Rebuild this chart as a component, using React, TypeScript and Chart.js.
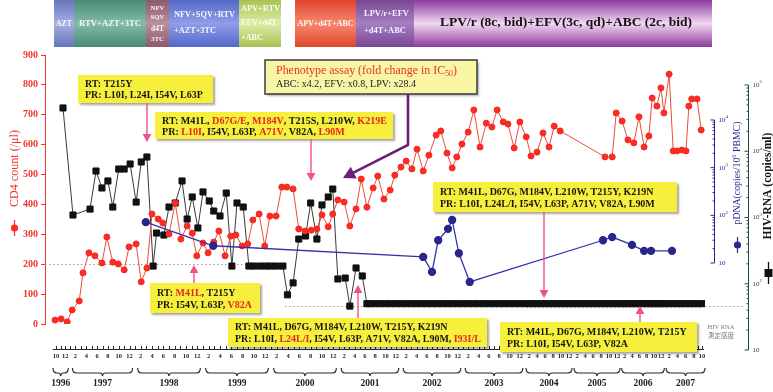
import React, { useEffect, useRef } from 'react';
import { Chart, registerables, LinearScale } from 'chart.js';

Chart.register(...registerables);

const FONT = "'Liberation Serif', 'Times New Roman', serif";
const JP_FONT = "'Noto Sans CJK JP', 'Noto Sans CJK SC', sans-serif";

// ---------------- data (time = months counted from Jan 1996, 0 = Jan 1996) ----------------
const CD4_MONTHS = [
  8.8, 10.1, 11.4, 12.4, 13.7, 14.4, 15.5, 16.6, 17.9, 18.8,
  19.9, 20.9, 22.0, 22.9, 24.2, 25.1, 26.1, 27.0, 28.1, 28.9,
  30.0, 31.1, 32.1, 33.2, 34.1, 34.9, 36.0, 36.9, 37.9, 38.8,
  39.9, 40.9, 41.8, 42.9, 43.9, 44.8, 45.9, 46.9, 47.8, 48.9,
  49.9, 50.8, 51.9, 52.9, 54.0, 55.1, 56.1, 57.0, 58.1, 58.9,
  59.8, 61.0, 62.1, 63.3, 64.3, 65.4, 66.6, 67.5, 68.7, 69.9,
  70.8, 72.0, 73.0, 74.1, 75.1, 76.3, 77.4, 78.8, 79.7, 80.9,
  81.9, 82.8, 83.8, 85.0, 86.1, 87.3, 88.5, 89.6, 90.6, 91.8,
  92.7, 93.9, 95.0, 96.3, 97.5, 99.0, 100.5, 102.0, 103.3, 104.8,
  116.0, 117.8, 118.8, 120.3, 121.9, 123.5, 124.9, 126.3, 127.6, 128.5,
  129.8, 130.9, 131.7, 133.0, 134.0, 134.9, 136.1, 137.1, 137.8, 138.5,
  139.8, 140.8,
];
const CD4_COUNTS = [
  13, 17, 7, 47, 77, 171, 238, 228, 204, 291,
  207, 201, 181, 258, 268, 141, 187, 368, 351, 338,
  301, 405, 284, 328, 304, 228, 271, 238, 274, 311,
  228, 294, 298, 261, 268, 348, 368, 261, 361, 361,
  458, 458, 452, 318, 311, 314, 318, 365, 325, 368,
  415, 408, 328, 385, 485, 391, 455, 495, 418, 448,
  498, 525, 545, 519, 585, 512, 565, 632, 646, 572,
  522, 559, 602, 642, 716, 592, 672, 659, 716, 676,
  669, 589, 676, 626, 562, 575, 639, 592, 662, 646,
  559, 559, 706, 679, 616, 606, 693, 592, 629, 756,
  729, 790, 706, 836, 579, 579, 582, 579, 729, 753,
  753, 649,
];

const RNA_MONTHS = [
  10.5, 12.55, 15.7, 16.8, 17.9, 19.0, 19.9, 21.0, 22.0, 23.1,
  24.2, 25.1, 26.1, 27.2, 27.8, 29.1, 30.0, 31.1, 32.3, 33.2,
  34.1, 35.1, 36.0, 37.1, 37.9, 39.0, 40.1, 41.1, 42.0, 43.1,
  44.1, 45.0, 46.1, 47.1, 48.0, 49.0, 50.1, 50.9, 51.9, 52.9,
  54.1, 55.0, 56.1, 57.0, 58.1, 58.9, 59.8, 61.2, 62.1, 63.3,
  64.5,
];
const RNA_COPIES = [
  45000, 1090, 1340, 5030, 2790, 3560, 1440, 5390, 5390, 6420,
  1710, 6890, 8190, 185, 583, 544, 1440, 1655, 3560, 948,
  2040, 695, 2430, 1775, 1253, 1054, 2340, 185, 1655, 1440,
  185, 185, 185, 185, 185, 185, 185, 68, 103, 473,
  526, 1655, 473, 1545, 2040, 2690, 118, 122, 46, 173,
  131,
];
// below detection limit (plotted at 50 copies/ml)
const RNA_UNDETECTABLE_MONTHS = [
  65.4, 66, 67, 68, 69, 70, 71, 72, 73, 74, 75,
  76, 77, 78, 79, 80, 81, 82, 83, 84, 85, 86,
  87, 88, 89, 90, 91, 92, 93, 94, 95, 96, 97,
  98, 99, 100, 101, 102, 103, 104, 105, 106, 107,
  108, 109, 110, 111, 112, 113, 114, 115, 116, 117,
  118, 119, 120, 121, 122, 123, 124, 125, 126, 127,
  128, 129, 130, 131, 132, 133, 134, 135, 136, 137, 138, 139, 140, 141,
];
const RNA_UNDETECTABLE_COPIES = [
  50, 50, 50, 50, 50, 50, 50, 50, 50, 50, 50,
  50, 50, 50, 50, 50, 50, 50, 50, 50, 50, 50,
  50, 50, 50, 50, 50, 50, 50, 50, 50, 50, 50,
  50, 50, 50, 50, 50, 50, 50, 50, 50, 50,
  50, 50, 50, 50, 50, 50, 50, 50, 50, 50,
  50, 50, 50, 50, 50, 50, 50, 50, 50, 50,
  50, 50, 50, 50, 50, 50, 50, 50, 50, 50, 50, 50, 50, 50,
];

const PDNA_MONTHS = [25.9, 37.8, 76.3, 78.0, 79.2, 81.1, 81.9, 83.2, 85.3, 115.5, 117.8, 123.0, 126.3, 128.2, 133.7];
const PDNA_COPIES = [72, 23, 13.4, 6.5, 30, 52, 80, 16, 4, 30, 35, 24, 18, 18, 18];

// detection limits of the HIV RNA assay
const OLD_LIMIT = 200;
const NEW_LIMIT = 50;
const ASSAY_CHANGE_MONTH = 50.5;

// ---------------- axis labels ----------------
const YEAR_LABELS = ['1996', '1997', '1998', '1999', '2000', '2001', '2002', '2003', '2004', '2005', '2006', '2007'];
const FULL_YEAR = ['2', '4', '6', '8', '10', '12'];
const YEAR_MONTH_LABELS = [
  ['10', '12'], FULL_YEAR, FULL_YEAR, FULL_YEAR, FULL_YEAR, FULL_YEAR,
  FULL_YEAR, FULL_YEAR, FULL_YEAR, FULL_YEAR, FULL_YEAR, ['2', '4', '6', '8', '10'],
];
const CD4_TICKS = [0, 100, 200, 300, 400, 500, 600, 700, 800, 900];

// ruler calibration (the printed time ruler is compressed in later years)
const RULER_MONTHS = [9, 12, 24, 36, 48, 60, 72, 84, 96, 108, 120, 132, 141];
const RULER_UNITS = [56, 70, 135, 203, 271, 339, 401, 463, 525, 573, 621, 665, 702];
const RULER_EDGE = [45, 705];

function interp(v: number, xs: number[], ys: number[]) {
  const n = xs.length;
  let i = 0;
  if (v >= xs[n - 1]) i = n - 2;
  else if (v > xs[0]) { while (i < n - 2 && v > xs[i + 1]) i++; }
  const t = (v - xs[i]) / (xs[i + 1] - xs[i]);
  return ys[i] + t * (ys[i + 1] - ys[i]);
}

class RulerTimeScale extends LinearScale {
  static id = 'rulertime';
  getPixelForValue(value: number) {
    if (value === null || value === undefined || isNaN(value)) return NaN;
    const u = interp(value, RULER_MONTHS, RULER_UNITS);
    return this.getPixelForDecimal((u - RULER_EDGE[0]) / (RULER_EDGE[1] - RULER_EDGE[0]));
  }
  getValueForPixel(pixel: number) {
    const d = this.getDecimalForPixel(pixel);
    return interp(RULER_EDGE[0] + d * (RULER_EDGE[1] - RULER_EDGE[0]), RULER_UNITS, RULER_MONTHS);
  }
}
Chart.register(RulerTimeScale as any);

// ---------------- styles ----------------
const RED = '#f0352a';
const NAVY = '#27278c';
const RNA_AXIS_COLOR = '#234a4a';
const YELLOW = '#f6f03c';
const PINK = '#f2508a';

// ---------------- regimen bar ----------------
const REGIMENS = [
  { x0: 54, x1: 74, dark: '#6775bc', light: '#a6b0e2', ink: '#f6f6ff', lines: [{ t: 'AZT', x: 64, y: 24, w: 16, a: 'center' }] },
  { x0: 74, x1: 146, dark: '#4a8a78', light: '#84baa8', ink: '#f6f6ff', lines: [{ t: 'RTV+AZT+3TC', x: 110, y: 24, w: 62, a: 'center' }] },
  { x0: 146, x1: 169, dark: '#8c5a6a', light: '#ba8e9c', ink: '#f6f6ff', lines: [
    { t: 'NFV', x: 157.5, y: 8, w: 14, a: 'center' }, { t: 'SQV', x: 157.5, y: 17, w: 14, a: 'center' },
    { t: 'd4T', x: 157.5, y: 29, w: 13, a: 'center' }, { t: '3TC', x: 157.5, y: 39, w: 13, a: 'center' }] },
  { x0: 169, x1: 239, dark: '#5567c8', light: '#8e9ee8', ink: '#f6f6ff', lines: [
    { t: 'NFV+SQV+RTV', x: 174, y: 15, w: 61, a: 'left' }, { t: '+AZT+3TC', x: 174, y: 31, w: 42, a: 'left' }] },
  { x0: 239, x1: 281, dark: '#a9c254', light: '#dcecA6', ink: '#f8fff0', lines: [
    { t: 'APV+RTV', x: 241, y: 9, w: 39, a: 'left' }, { t: 'EFV+d4T', x: 241, y: 23, w: 36, a: 'left' },
    { t: '+ABC', x: 241, y: 38, w: 22, a: 'left' }] },
  { x0: 295, x1: 356, dark: '#e0442c', light: '#f7876e', ink: '#fff4f0', lines: [{ t: 'APV+d4T+ABC', x: 325.5, y: 24, w: 56, a: 'center' }] },
  { x0: 356, x1: 414, dark: '#784893', light: '#a67ec2', ink: '#f6f0ff', lines: [
    { t: 'LPV/r+EFV', x: 364, y: 14, w: 45, a: 'left' }, { t: '+d4T+ABC', x: 364, y: 31, w: 42, a: 'left' }] },
  { x0: 414, x1: 712, dark: '#8b3a9d', light: '#f3d8f3', ink: '#111111', lines: [
    { t: 'LPV/r (8c, bid)+EFV(3c, qd)+ABC (2c, bid)', x: 566, y: 23, w: 252, a: 'center' }] },
];

// ---------------- resistance annotations ----------------
const K = '#151515';
const R = '#e4281c';
const NOTES = [
  { box: [78, 75, 135, 28], tx: 85, ty: [84, 95.5], fit: 118,
    lines: [[['RT: T215Y', K]], [['PR: L10I, L24I, I54V, L63P', K]]],
    arrow: [[147, 103], [147, 142]] },
  { box: [155, 112, 238, 27], tx: 162, ty: [121.5, 132.5], fit: 224,
    lines: [
      [['RT: M41L, ', K], ['D67G/E', R], [', ', K], ['M184V', R], [', T215S, L210W, ', K], ['K219E', R]],
      [['PR: ', K], ['L10I', R], [', I54V, L63P, ', K], ['A71V', R], [', V82A, ', K], ['L90M', R]],
    ],
    arrow: [[311, 139], [311, 181]] },
  { box: [150, 283, 110, 30], tx: 157, ty: [293, 305.5], fit: 95,
    lines: [[['RT: ', K], ['M41L', R], [', T215Y', K]], [['PR: I54V, L63P, ', K], ['V82A', R]]],
    arrow: [[194, 283], [194, 265]] },
  { box: [228, 318, 259, 29], tx: 235, ty: [327.5, 339], fit: 246,
    lines: [
      [['RT: M41L, D67G, M184V, L210W, T215Y, K219N', K]],
      [['PR: L10I, ', K], ['L24L/I', R], [', I54V, L63P, A71V, V82A, L90M, ', K], ['I93I/L', R]],
    ],
    arrow: [[358, 318], [358, 285]] },
  { box: [433, 182, 244, 30], tx: 440, ty: [192, 204.5], fit: 215,
    lines: [[['RT: M41L, D67G, M184V, L210W, T215Y, K219N', K]], [['PR: L10I, L24L/I, I54V, L63P, A71V, V82A, L90M', K]]],
    arrow: [[544, 212], [544, 298]] },
  { box: [500, 322, 197, 30], tx: 507, ty: [332.5, 344.5], fit: 180,
    lines: [[['RT: M41L, D67G, M184V, L210W, T215Y', K]], [['PR: L10I, I54V, L63P, V82A', K]]],
    arrow: [[640, 322], [640, 306]] },
];

// ---------------- drawing helpers ----------------
function drawArrow(ctx: CanvasRenderingContext2D, pts: number[][], color: string, width: number, head: number) {
  ctx.save();
  ctx.strokeStyle = color; ctx.fillStyle = color; ctx.lineWidth = width;
  const n = pts.length;
  const [ex, ey] = pts[n - 1];
  const [px, py] = pts[n - 2];
  const ang = Math.atan2(ey - py, ex - px);
  const c = Math.cos(ang), s = Math.sin(ang);
  ctx.beginPath();
  ctx.moveTo(pts[0][0], pts[0][1]);
  for (let i = 1; i < n - 1; i++) ctx.lineTo(pts[i][0], pts[i][1]);
  ctx.lineTo(ex - c * head * 0.8, ey - s * head * 0.8);
  ctx.stroke();
  ctx.beginPath();
  ctx.moveTo(ex, ey);
  ctx.lineTo(ex - c * head + s * head * 0.55, ey - s * head - c * head * 0.55);
  ctx.lineTo(ex - c * head - s * head * 0.55, ey - s * head + c * head * 0.55);
  ctx.closePath();
  ctx.fill();
  ctx.restore();
}

function fitFont(ctx: CanvasRenderingContext2D, text: string, width: number, weight: string) {
  ctx.font = `${weight} 20px ${FONT}`;
  const w = ctx.measureText(text).width || 1;
  const size = (20 * width) / w;
  ctx.font = `${weight} ${size.toFixed(2)}px ${FONT}`;
  return size;
}

// parts: [text, kind] with kind 'n' | 'sup' | 'sub'
function drawRichFit(ctx: CanvasRenderingContext2D, parts: string[][], x: number, y: number, width: number,
  weight: string, color: string, align: string) {
  const widthAt = (size: number) => parts.reduce((acc, [t, k]) => {
    ctx.font = `${weight} ${k === 'n' ? size : size * 0.65}px ${FONT}`;
    return acc + ctx.measureText(t).width;
  }, 0);
  const size = (20 * width) / widthAt(20);
  let cx = align === 'center' ? x - width / 2 : x;
  ctx.fillStyle = color;
  ctx.textAlign = 'left';
  ctx.textBaseline = 'middle';
  for (const [t, k] of parts) {
    const sz = k === 'n' ? size : size * 0.65;
    ctx.font = `${weight} ${sz.toFixed(2)}px ${FONT}`;
    const dy = k === 'sup' ? -size * 0.3 : k === 'sub' ? size * 0.25 : 0;
    ctx.fillText(t, cx, y + dy);
    cx += ctx.measureText(t).width;
  }
}

function drawRegimens(ctx: CanvasRenderingContext2D) {
  for (const r of REGIMENS) {
    const g = ctx.createLinearGradient(0, 0, 0, 47);
    g.addColorStop(0, r.dark);
    g.addColorStop(0.5, r.light);
    g.addColorStop(1, r.dark);
    ctx.fillStyle = g;
    ctx.fillRect(r.x0, 0, r.x1 - r.x0, 47);
    for (const l of r.lines) {
      fitFont(ctx, l.t, l.w, 'bold');
      ctx.fillStyle = r.ink;
      ctx.textAlign = l.a as CanvasTextAlign;
      ctx.textBaseline = 'middle';
      ctx.fillText(l.t, l.x, l.y);
    }
  }
}

const RULER_Y = 349;

function drawRuler(ctx: CanvasRenderingContext2D, xs: any) {
  ctx.save();
  ctx.strokeStyle = '#2a2a2a';
  ctx.lineWidth = 1;
  ctx.beginPath();
  ctx.moveTo(xs.getPixelForValue(8.3), RULER_Y + 0.5);
  ctx.lineTo(xs.getPixelForValue(141.5), RULER_Y + 0.5);
  for (let m = 9; m <= 141; m++) {
    const x = Math.round(xs.getPixelForValue(m)) + 0.5;
    ctx.moveTo(x, RULER_Y - 3);
    ctx.lineTo(x, RULER_Y);
  }
  ctx.stroke();
  ctx.fillStyle = '#222';
  ctx.textAlign = 'center';
  ctx.textBaseline = 'middle';
  YEAR_LABELS.forEach((yl, i) => {
    const year = parseInt(yl, 10);
    const labels = YEAR_MONTH_LABELS[i];
    ctx.font = `bold 6.5px ${FONT}`;
    const ms = labels.map((ml) => (year - 1996) * 12 + parseInt(ml, 10) - 1);
    labels.forEach((ml, j) => ctx.fillText(ml, xs.getPixelForValue(ms[j]), RULER_Y + 7));
    const x1 = xs.getPixelForValue(ms[0]) - 3;
    const x2 = xs.getPixelForValue(ms[ms.length - 1]) + 3;
    const cx = (x1 + x2) / 2;
    const by = 373;
    ctx.lineWidth = 1.2;
    ctx.beginPath();
    ctx.moveTo(x1, by - 5);
    ctx.quadraticCurveTo(x1, by, x1 + 4, by);
    ctx.lineTo(cx - 3, by);
    ctx.quadraticCurveTo(cx, by, cx, by + 3);
    ctx.quadraticCurveTo(cx, by, cx + 3, by);
    ctx.lineTo(x2 - 4, by);
    ctx.quadraticCurveTo(x2, by, x2, by - 5);
    ctx.stroke();
    ctx.font = `bold 9.5px ${FONT}`;
    ctx.fillText(yl, cx, 384);
  });
  ctx.restore();
}

function drawLogAxis(ctx: CanvasRenderingContext2D, scale: any, x: number, e0: number, e1: number, color: string) {
  ctx.save();
  ctx.strokeStyle = color;
  ctx.fillStyle = color;
  ctx.lineWidth = 1;
  const px = Math.round(x) + 0.5;
  ctx.beginPath();
  ctx.moveTo(px, scale.getPixelForValue(Math.pow(10, e1)));
  ctx.lineTo(px, scale.getPixelForValue(Math.pow(10, e0)));
  for (let e = e0; e <= e1; e++) {
    const y = scale.getPixelForValue(Math.pow(10, e));
    ctx.moveTo(px - 4, y); ctx.lineTo(px, y);
  }
  for (let e = e0; e < e1; e++) {
    for (let k = 2; k <= 9; k++) {
      const y = scale.getPixelForValue(k * Math.pow(10, e));
      ctx.moveTo(px - 2, y); ctx.lineTo(px, y);
    }
  }
  ctx.stroke();
  ctx.textAlign = 'left';
  ctx.textBaseline = 'middle';
  for (let e = e0; e <= e1; e++) {
    const y = scale.getPixelForValue(Math.pow(10, e));
    ctx.font = `7px ${FONT}`;
    ctx.fillText('10', px + 4, y);
    if (e > 1) {
      const w = ctx.measureText('10').width;
      ctx.font = `5px ${FONT}`;
      ctx.fillText(String(e), px + 4 + w, y - 3);
    }
  }
  ctx.restore();
}

function drawTitles(ctx: CanvasRenderingContext2D) {
  // CD4 title (left)
  ctx.save();
  ctx.translate(15, 168.5);
  ctx.rotate(-Math.PI / 2);
  drawRichFit(ctx, [['CD4 count (/μl)', 'n']], 0, 0, 77, 'normal', RED, 'center');
  ctx.restore();
  ctx.save();
  ctx.strokeStyle = RED; ctx.fillStyle = '#ff2a22'; ctx.lineWidth = 1.2;
  ctx.beginPath(); ctx.moveTo(14.5, 220); ctx.lineTo(14.5, 236); ctx.stroke();
  ctx.beginPath(); ctx.arc(14.5, 228, 3.6, 0, Math.PI * 2); ctx.fill();
  ctx.restore();

  // pDNA title
  ctx.save();
  ctx.translate(737, 173);
  ctx.rotate(-Math.PI / 2);
  drawRichFit(ctx, [['pDNA(copies/10', 'n'], ['6', 'sup'], [' PBMC)', 'n']], 0, 0, 103, 'normal', NAVY, 'center');
  ctx.restore();
  ctx.save();
  ctx.strokeStyle = NAVY; ctx.fillStyle = NAVY; ctx.lineWidth = 1.2;
  ctx.beginPath(); ctx.moveTo(737.5, 237); ctx.lineTo(737.5, 253); ctx.stroke();
  ctx.beginPath(); ctx.arc(737.5, 245, 3.6, 0, Math.PI * 2); ctx.fill();
  ctx.restore();

  // HIV-RNA title
  ctx.save();
  ctx.translate(768, 186);
  ctx.rotate(-Math.PI / 2);
  drawRichFit(ctx, [['HIV-RNA (copies/ml)', 'n']], 0, 0, 107, 'bold', '#161616', 'center');
  ctx.restore();
  ctx.save();
  ctx.strokeStyle = '#111'; ctx.fillStyle = '#111'; ctx.lineWidth = 1.3;
  ctx.beginPath(); ctx.moveTo(768.5, 262); ctx.lineTo(768.5, 284); ctx.stroke();
  ctx.fillRect(764.5, 269, 8, 8);
  ctx.restore();
}

function drawNotes(ctx: CanvasRenderingContext2D) {
  for (const n of NOTES) {
    const [bx, by, bw, bh] = n.box;
    ctx.save();
    ctx.shadowColor = 'rgba(0,0,0,0.35)';
    ctx.shadowOffsetX = 2; ctx.shadowOffsetY = 2; ctx.shadowBlur = 2;
    ctx.fillStyle = YELLOW;
    ctx.fillRect(bx, by, bw, bh);
    ctx.restore();
    ctx.save();
    ctx.font = `bold 20px ${FONT}`;
    let maxW = 1;
    for (const l of n.lines) maxW = Math.max(maxW, ctx.measureText(l.map((p) => p[0]).join('')).width);
    const size = (20 * n.fit) / maxW;
    ctx.font = `bold ${size.toFixed(2)}px ${FONT}`;
    ctx.textAlign = 'left';
    ctx.textBaseline = 'middle';
    n.lines.forEach((l, i) => {
      let x = n.tx;
      for (const [t, c] of l) {
        ctx.fillStyle = c;
        ctx.fillText(t, x, n.ty[i]);
        x += ctx.measureText(t).width;
      }
    });
    ctx.restore();
    drawArrow(ctx, n.arrow, PINK, 1.4, 8);
  }

  // phenotype assay box
  ctx.save();
  ctx.shadowColor = 'rgba(0,0,0,0.3)';
  ctx.shadowOffsetX = 2; ctx.shadowOffsetY = 2; ctx.shadowBlur = 2;
  ctx.fillStyle = '#f8f5a4';
  ctx.fillRect(265, 60, 212, 34);
  ctx.restore();
  ctx.save();
  ctx.strokeStyle = '#3a3a3a';
  ctx.lineWidth = 1.5;
  ctx.strokeRect(265, 60, 212, 34);
  drawRichFit(ctx, [['Phenotype assay (fold change in IC', 'n'], ['50', 'sub'], [')', 'n']], 276, 71, 181, 'normal', '#e8341e', 'left');
  drawRichFit(ctx, [['ABC: x4.2, EFV: x0.8, LPV: x28.4', 'n']], 276, 84.5, 140, 'normal', '#222', 'left');
  ctx.restore();
  drawArrow(ctx, [[408, 94], [408, 145], [343, 178]], '#6a1f7c', 2.6, 12);
}

const overlayPlugin = {
  id: 'overlay',
  beforeDraw(chart: any) {
    const ctx = chart.ctx;
    ctx.save();
    ctx.fillStyle = '#ffffff';
    ctx.fillRect(0, 0, chart.width, chart.height);
    ctx.restore();
  },
  beforeDatasetsDraw(chart: any) {
    const ctx = chart.ctx;
    const xs = chart.scales.x;
    const yr = chart.scales.yRNA;
    const xc = xs.getPixelForValue(ASSAY_CHANGE_MONTH);
    ctx.save();
    ctx.strokeStyle = '#9a9a9a';
    ctx.lineWidth = 1;
    ctx.setLineDash([1.5, 2.5]);
    ctx.beginPath();
    const y1 = Math.round(yr.getPixelForValue(OLD_LIMIT)) + 0.5;
    ctx.moveTo(chart.chartArea.left, y1); ctx.lineTo(xc, y1);
    const y2 = Math.round(yr.getPixelForValue(NEW_LIMIT)) + 2.5;
    ctx.moveTo(xc, y2); ctx.lineTo(745, y2);
    ctx.stroke();
    ctx.restore();
  },
  afterDraw(chart: any) {
    const ctx = chart.ctx;
    drawRegimens(ctx);
    drawRuler(ctx, chart.scales.x);
    drawLogAxis(ctx, chart.scales.yDNA, 714, 1, 4, NAVY);
    drawLogAxis(ctx, chart.scales.yRNA, 748, 1, 5, RNA_AXIS_COLOR);
    ctx.save();
    ctx.fillStyle = '#7a7a7a';
    ctx.textAlign = 'center';
    ctx.textBaseline = 'middle';
    ctx.font = `6.5px ${FONT}`;
    ctx.fillText('HIV RNA', 721, 327);
    ctx.font = `6.5px ${JP_FONT}`;
    ctx.fillText('測定感度', 721, 336);
    ctx.restore();
    drawTitles(ctx);
    drawNotes(ctx);
  },
};

export default function App() {
  const ref = useRef<HTMLCanvasElement>(null);
  useEffect(() => {
    const canvas = ref.current;
    if (!canvas) return;
    const rna = RNA_MONTHS.map((m, i) => ({ x: m, y: RNA_COPIES[i] }))
      .concat(RNA_UNDETECTABLE_MONTHS.map((m, i) => ({ x: m, y: RNA_UNDETECTABLE_COPIES[i] })));
    const chart = new Chart(canvas, {
      type: 'line',
      data: {
        datasets: [
          {
            label: 'pDNA', yAxisID: 'yDNA', order: 0,
            data: PDNA_MONTHS.map((m, i) => ({ x: m, y: PDNA_COPIES[i] })),
            borderColor: '#3434a8', backgroundColor: NAVY, pointBackgroundColor: NAVY, pointBorderColor: NAVY,
            borderWidth: 1.3, pointRadius: 3.5, pointStyle: 'circle',
          },
          {
            label: 'CD4', yAxisID: 'yCD4', order: 1,
            data: CD4_MONTHS.map((m, i) => ({ x: m, y: CD4_COUNTS[i] })),
            borderColor: '#f04a3a', backgroundColor: '#ff2a22', pointBackgroundColor: '#ff2a22', pointBorderColor: '#f02a22',
            borderWidth: 1, pointRadius: 3, pointStyle: 'circle',
          },
          {
            label: 'HIV-RNA', yAxisID: 'yRNA', order: 2,
            data: rna,
            borderColor: '#3a3a3a', backgroundColor: '#111', pointBackgroundColor: '#111', pointBorderColor: '#111',
            borderWidth: 1, pointRadius: 4.3, pointStyle: 'rect',
          },
        ],
      } as any,
      options: {
        animation: false,
        responsive: false,
        maintainAspectRatio: false,
        devicePixelRatio: 1,
        layout: { padding: { left: 0, top: 55, right: 68, bottom: 68 } },
        plugins: { legend: { display: false }, tooltip: { enabled: false } },
        scales: {
          x: { type: 'rulertime', position: 'bottom', min: 8, max: 142, bounds: 'data', display: false },
          yCD4: {
            type: 'linear', position: 'left', min: 0, max: 900, bounds: 'data',
            afterBuildTicks: (s: any) => { s.ticks = CD4_TICKS.map((v) => ({ value: v })); },
            afterFit: (s: any) => { s.width = 45; },
            ticks: { color: RED, padding: 3, font: { family: FONT, size: 10, weight: 'bold' } },
            grid: { drawOnChartArea: false, drawTicks: true, tickLength: 4, color: RED },
            border: { color: RED, width: 1 },
          },
          yRNA: { type: 'logarithmic', display: false, bounds: 'data', min: Math.pow(10, 1.3925), max: Math.pow(10, 5.4528) },
          yDNA: { type: 'logarithmic', display: false, bounds: 'data', min: Math.pow(10, -0.2797), max: Math.pow(10, 5.3636) },
        },
      } as any,
      plugins: [overlayPlugin],
    });
    return () => chart.destroy();
  }, []);
  return (
    <div style={{ position: 'absolute', left: 0, top: 0, width: 773, height: 392, background: '#fff' }}>
      <canvas ref={ref} width={773} height={392} style={{ display: 'block', width: 773, height: 392 }} />
    </div>
  );
}
